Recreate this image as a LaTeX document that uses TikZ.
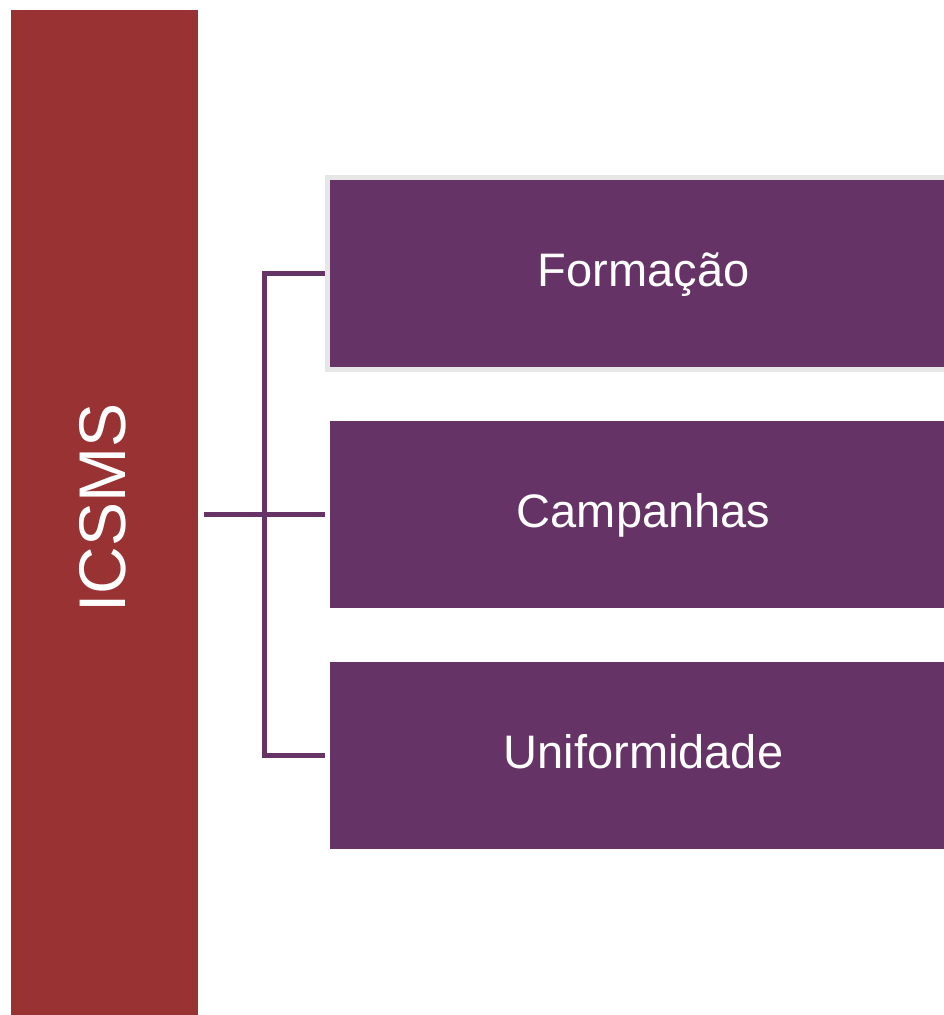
\documentclass[tikz,border=0pt]{standalone}
\usepackage{fontspec}
\setmainfont{Liberation Sans}
\definecolor{barred}{RGB}{153,51,51}
\definecolor{boxpurple}{RGB}{102,51,102}
\definecolor{bordergray}{RGB}{230,230,230}
\begin{document}
\begin{tikzpicture}[x=1pt,y=-1pt,
  catbox/.style={rectangle, fill=boxpurple, draw=none, inner sep=0pt, outer sep=0pt,
    minimum width=627pt, minimum height=187pt, text=white,
    font=\fontsize{47}{51}\selectfont, text height=33pt, text depth=8pt},
  link/.style={draw=boxpurple, line width=5pt, line join=miter}
]
\useasboundingbox[fill=white] (0,0) rectangle (943,1015);
\node[rectangle, fill=barred, inner sep=0pt, outer sep=0pt, anchor=north west,
  minimum width=187pt, minimum height=1010pt] (bar) at (11,10) {};
\node[rotate=90, anchor=base, text=white, inner sep=0pt,
  font=\fontsize{66}{70}\selectfont] (icsms) at (125,508) {ICSMS};
\node[catbox, draw=bordergray, line width=5pt, outer sep=2.5pt,
  minimum width=632pt, minimum height=192pt, anchor=north west] (form) at (325,175) {Formação};
\node[catbox, anchor=north west] (camp) at (330,421) {Campanhas};
\node[catbox, anchor=north west] (unif) at (330,662) {Uniformidade};
\coordinate (trunktop) at (264.5,273.5);
\coordinate (trunkbot) at (264.5,755.5);
\draw[link] (form.west) -- (trunktop) -- (trunkbot) -- ([xshift=-5pt]unif.west);
\draw[link] ([xshift=6pt]bar.east |- camp.west) -- ([xshift=-5pt]camp.west);
\end{tikzpicture}
\end{document}
